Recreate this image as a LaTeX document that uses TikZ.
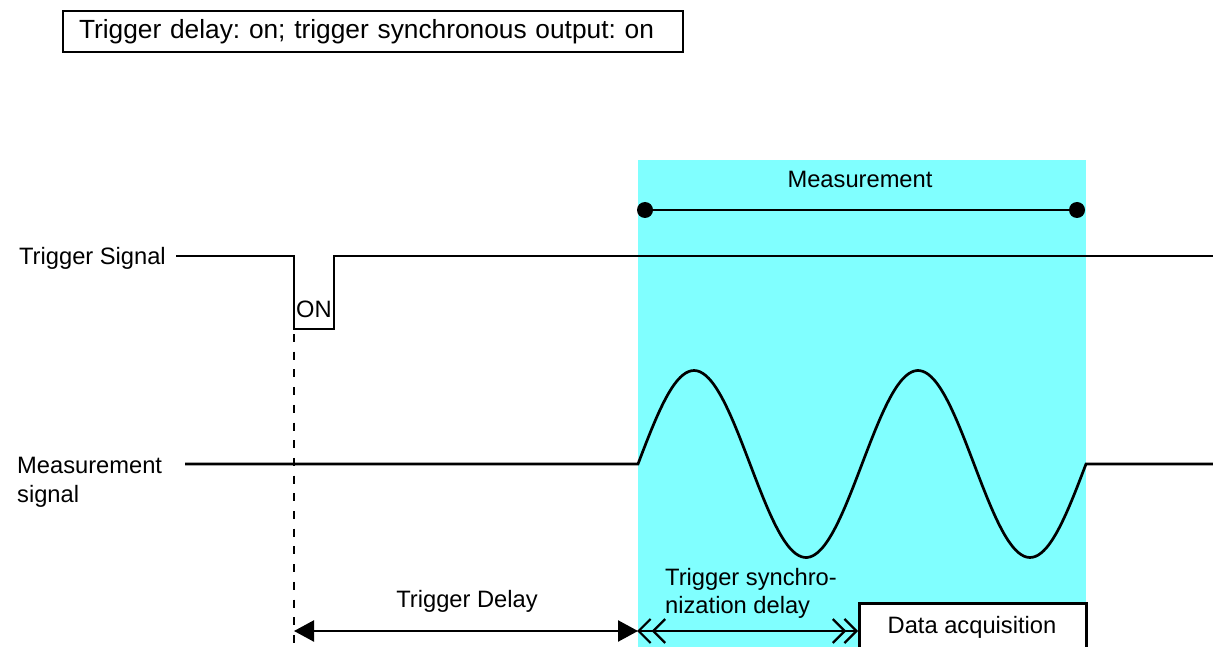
\documentclass[tikz,border=0pt]{standalone}
\usepackage{fontspec}
\setmainfont{Liberation Sans}
\usetikzlibrary{arrows.meta}
\frenchspacing
\definecolor{meascyan}{HTML}{80FFFF}
\tikzset{
  lbl/.style={font=\fontsize{23.7}{28.5}\selectfont, inner sep=0pt},
  sig/.style={line width=2.7pt, line join=miter},
  boxed/.style={draw, line width=2.6pt, fill=white},
  dot/.style={circle, fill=black, inner sep=0pt, minimum size=16pt},
  chevarrow/.style={line width=2.4pt, {Straight Barb[length=12pt,width=24pt,line width=2.2pt,sep=-3pt]Straight Barb[length=12pt,width=24pt,line width=2.2pt]}-{Straight Barb[length=12pt,width=24pt,line width=2.2pt,sep=-3pt]Straight Barb[length=12pt,width=24pt,line width=2.2pt]}},
  triarrow/.style={line width=2.4pt, {Triangle[length=20pt,width=21pt]}-{Triangle[length=20pt,width=21pt]}},
}
\begin{document}
\begin{tikzpicture}[x=1pt,y=-1pt]
\useasboundingbox (0,0) rectangle (1213,647);
% measurement window
\fill[meascyan] (638,160) rectangle (1086,660);
% title
\node[boxed, lbl, font=\fontsize{26.3}{30}\selectfont, minimum width=620pt, minimum height=41pt, text width=588pt, inner xsep=16pt, align=left] (title) at (373,31.5) {Trigger delay: on; trigger synchronous output: on};
% measurement extent
\node[lbl, anchor=base] (meas) at (860,188) {Measurement};
\node[dot] (d1) at (645,210) {};
\node[dot] (d2) at (1077,210) {};
\draw[line width=2.8pt] (d1) -- (d2);
% trigger signal
\node[lbl, anchor=base east] (tsl) at (166,265) {Trigger Signal};
\coordinate (ts0) at (176,256);
\coordinate (ts1) at (1213,256);
\draw[sig] (ts0) -| (294,329) -| (334,256) -- (ts1);
\node[lbl] (on) at (314,309) {ON};
% dashed marker
\coordinate (m0) at (294,334);
\coordinate (m1) at (294,660);
\draw[line width=2.6pt, dash pattern=on 8pt off 9.7pt] (m0) -- (m1);
% measurement signal
\node[lbl, anchor=north west, align=left] (msl) at (17,457) {Measurement\\signal};
\coordinate (ms0) at (185,464);
\coordinate (ms1) at (1213,464);
\draw[sig] (ms0) -- (638,464)
  -- plot[domain=0:448, samples=160, smooth] ({638+\x}, {464-93.5*sin(\x/224*360)})
  -- (ms1);
% trigger delay
\coordinate (td0) at (294,631);
\coordinate (td1) at (638,631);
\draw[triarrow] (td0) -- (td1);
\node[lbl, anchor=base] (tdl) at (467,607) {Trigger Delay};
% data acquisition
\node[boxed, lbl, anchor=north west, minimum width=227pt, minimum height=60pt] (daq) at (858,602) {};
\node[lbl, anchor=base] (daql) at (972,633) {Data acquisition};
% trigger sync delay
\coordinate (sd0) at (640,631);
\coordinate (sd1) at (858,631);
\draw[chevarrow] (sd0) -- (sd1);
\node[lbl, anchor=north west, align=left] (sdl) at (665,568) {Trigger synchro-\\nization delay};
\end{tikzpicture}
\end{document}
